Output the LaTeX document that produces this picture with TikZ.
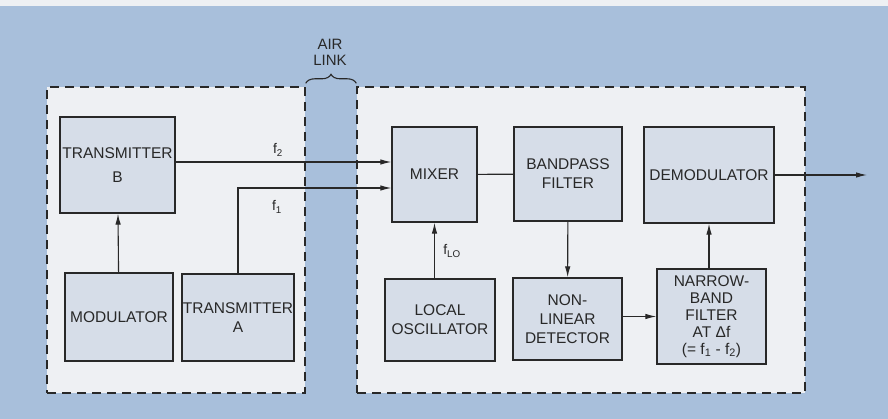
\documentclass[tikz,border=0pt]{standalone}
\usepackage{fontspec}
\setmainfont{Liberation Sans}
\usetikzlibrary{arrows.meta, decorations.pathreplacing}
\definecolor{skyback}{RGB}{168,191,219}
\definecolor{paneback}{RGB}{238,240,243}
\definecolor{boxfill}{RGB}{214,221,232}
\definecolor{inkline}{RGB}{40,40,40}

\begin{document}
\begin{tikzpicture}[
x=1pt, y=-1pt,
font=\fontsize{15.5}{19}\selectfont,
box/.style={rectangle, draw=inkline, fill=boxfill, line width=1.3pt, align=center, inner sep=0pt, text=inkline},
size/.style 2 args={minimum width=#1pt, minimum height=#2pt},
group/.style={rectangle, draw=inkline, fill=paneback, dash pattern=on 9pt off 6pt, line width=1.4pt, inner sep=0pt},
line/.style={-{Latex[length=11pt, width=5.5pt]}, line width=1.1pt, draw=inkline},
wire/.style={line width=1.1pt, draw=inkline},
tag/.style={font=\fontsize{14}{16}\selectfont, text=inkline},
brace/.style={decorate, decoration={brace, amplitude=9pt}, line width=1.1pt, draw=inkline}
]
\useasboundingbox (0,0) rectangle (888,419);
\fill[paneback] (0,0) rectangle (888,6);
\fill[skyback] (0,6) rectangle (888,419);

\node[group, size={258}{306}] (tx) at (176,240) {};
\node[group, size={448}{306}] (rx) at (581,240) {};

\node[box, size={115}{96}] (txb) at (117.5,165) {TRANSMITTER\\[5pt]B};
\node[box, size={108}{88}] (mod) at (119,317) {MODULATOR};
\node[box, size={112}{87}] (txa) at (238,317.5) {TRANSMITTER\\A};
\node[box, size={85}{95}] (mix) at (434.5,174.5) {MIXER};
\node[box, size={110}{82}] (lo) at (440,320) {LOCAL\\OSCILLATOR};
\node[box, size={108}{94}] (bpf) at (568,174) {BANDPASS\\FILTER};
\node[box, size={109}{82}] (nld) at (567.5,319) {NON-\\LINEAR\\DETECTOR};
\node[box, size={130}{96}] (dem) at (709,175) {DEMODULATOR};
\node[box, size={109}{95}, font=\fontsize{15.5}{17}\selectfont] (nbf) at (711.5,316.5) {NARROW-\\BAND\\FILTER\\AT Δf\\(= f\textsubscript{1} - f\textsubscript{2})};

\node[tag] (ftwo) at (278,150) {f\textsubscript{2}};
\node[tag] (fone) at (277,207) {f\textsubscript{1}};
\node[tag] (flo) at (452,251) {f\textsubscript{LO}};
\node[align=center, text=inkline, font=\fontsize{15}{16}\selectfont] (air) at (330,52) {AIR\\LINK};
\coordinate (out) at (867,175);

\draw[line] (mod) -- (txb);
\draw[line] ([yshift=3pt]txb.east) -- ([yshift=12.5pt]mix.west);
\draw[line] (txa.north) |- ([yshift=-13.5pt]mix.west);
\draw[line] (mix.south |- lo.north) -- (mix.south);
\draw[wire] (mix) -- (bpf);
\draw[line] (bpf) -- (nld);
\draw[line] (nld.east |- nbf.west) -- (nbf.west);
\draw[line] (dem.south |- nbf.north) -- (dem.south);
\draw[line] (dem.east) -- (out);
\draw[brace] ([yshift=3pt]tx.north east) -- ([yshift=3pt]rx.north west);
\end{tikzpicture}
\end{document}
